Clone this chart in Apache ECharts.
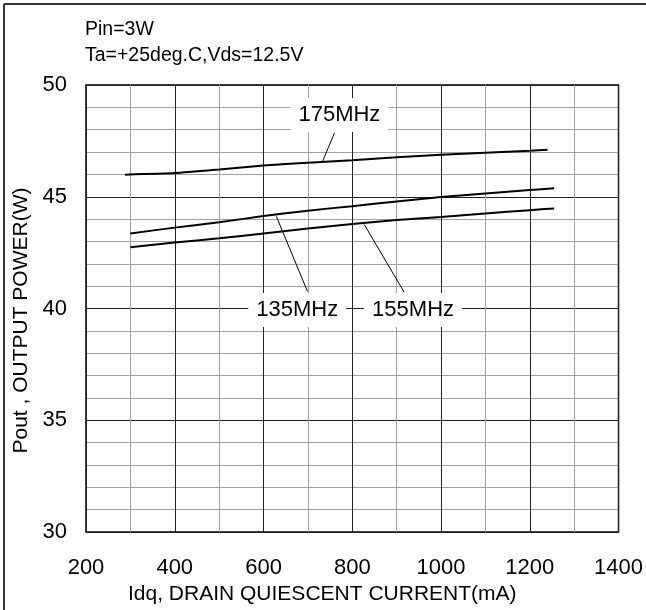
<!DOCTYPE html>
<html>
<head>
<meta charset="utf-8">
<script src="https://cdn.jsdelivr.net/npm/echarts@6/dist/echarts.min.js"></script>
<style>
  html, body { margin: 0; padding: 0; background: #fff; }
  #chart { width: 646px; height: 610px; }
</style>
</head>
<body>
<div id="chart"></div>
<script>
// Output power vs. drain quiescent current, one curve per frequency
var idq175 = [288, 400, 500, 600, 700, 800, 900, 1000, 1100, 1200, 1240];
var pout175 = [45.99, 46.06, 46.22, 46.40, 46.52, 46.63, 46.77, 46.88, 46.97, 47.06, 47.10];

var idq135 = [300, 400, 500, 600, 700, 800, 900, 1000, 1100, 1200, 1255];
var pout135 = [43.36, 43.62, 43.86, 44.14, 44.38, 44.58, 44.79, 44.99, 45.15, 45.30, 45.38];

var idq155 = [300, 400, 500, 600, 700, 800, 900, 1000, 1100, 1200, 1255];
var pout155 = [42.74, 42.95, 43.14, 43.36, 43.58, 43.78, 43.96, 44.10, 44.25, 44.40, 44.48];

// Curve annotations in data units: label centre, leader start (on curve), leader end
var curveLabels = ['175MHz', '135MHz', '155MHz'];
var labelAt = [[771, 48.66], [676, 39.93], [937, 39.93]];
var leaderFrom = [[733, 46.58], [629, 44.12], [827, 43.76]];
var leaderTo = [[760, 47.86], [699, 40.77], [917, 40.73]];

var xTicks = [200, 1400, 200];   // min, max, interval
var yTicks = [30, 50, 5];

var FONT = 'Liberation Sans, Arial, sans-serif';

function pairs(xs, ys) {
  return xs.map(function (x, i) { return [x, ys[i]]; });
}

function curve(name, xs, ys) {
  return {
    name: name,
    type: 'line',
    smooth: 0.2,
    showSymbol: false,
    symbol: 'none',
    lineStyle: { color: '#000', width: 2 },
    data: pairs(xs, ys),
    z: 3
  };
}

var chart = echarts.init(document.getElementById('chart'), null, { renderer: 'canvas' });

chart.setOption({
  animation: false,
  backgroundColor: '#fff',
  title: {
    text: 'Pin=3W\nTa=+25deg.C,Vds=12.5V',
    left: 80,
    top: 12,
    textStyle: { fontFamily: FONT, fontSize: 19.5, fontWeight: 'normal', color: '#000', lineHeight: 26 }
  },
  grid: {
    left: 86, right: 26, top: 85, bottom: 76,
    show: true, borderColor: '#000', borderWidth: 1.5, backgroundColor: 'transparent'
  },
  xAxis: {
    type: 'value',
    min: xTicks[0], max: xTicks[1], interval: xTicks[2],
    name: 'Idq, DRAIN QUIESCENT CURRENT(mA)',
    nameLocation: 'middle',
    nameGap: 46,
    nameTextStyle: { fontFamily: FONT, fontSize: 21, color: '#000', padding: [0, 60, 0, 0] },
    axisLine: { show: false },
    axisTick: { show: false },
    axisLabel: { fontFamily: FONT, fontSize: 22, color: '#000', margin: 25, formatter: function (v) { return String(v); } },
    splitLine: { show: true, lineStyle: { color: '#222', width: 1 } },
    minorTick: { show: false, splitNumber: 2 },
    minorSplitLine: { show: true, lineStyle: { color: '#a0a0a0', width: 1 } }
  },
  yAxis: {
    type: 'value',
    min: yTicks[0], max: yTicks[1], interval: yTicks[2],
    name: 'Pout , OUTPUT POWER(W)',
    nameLocation: 'middle',
    nameGap: 51,
    nameTextStyle: { fontFamily: FONT, fontSize: 21, color: '#000', padding: [0, 24, 0, 0] },
    axisLine: { show: false },
    axisTick: { show: false },
    axisLabel: { fontFamily: FONT, fontSize: 22, color: '#000', margin: 19, formatter: function (v) { return String(v); } },
    splitLine: { show: true, lineStyle: { color: '#222', width: 1 } },
    minorTick: { show: false, splitNumber: 5 },
    minorSplitLine: { show: true, lineStyle: { color: '#a0a0a0', width: 1 } }
  },
  series: [
    curve('175MHz', idq175, pout175),
    curve('135MHz', idq135, pout135),
    curve('155MHz', idq155, pout155)
  ]
});

// Annotation labels and leader lines, placed through the axis scales
var toPx = function (p) { return chart.convertToPixel({ gridIndex: 0 }, p); };
var graphics = [
  // page frame on the left and top edges
  { type: 'line', shape: { x1: 4, y1: 4, x2: 4, y2: 610 }, style: { stroke: '#333', lineWidth: 2 }, z: 10 },
  { type: 'line', shape: { x1: 4, y1: 4, x2: 646, y2: 4 }, style: { stroke: '#333', lineWidth: 2 }, z: 10 }
];
curveLabels.forEach(function (txt, i) {
  var a = toPx(leaderFrom[i]);
  var b = toPx(leaderTo[i]);
  var c = toPx(labelAt[i]);
  graphics.push({
    type: 'line',
    shape: { x1: a[0], y1: a[1], x2: b[0], y2: b[1] },
    style: { stroke: '#000', lineWidth: 1 },
    z: 20
  });
  graphics.push({
    type: 'text',
    x: c[0], y: c[1],
    style: {
      text: txt,
      fontFamily: FONT,
      fontSize: 22,
      fill: '#000',
      align: 'center',
      verticalAlign: 'middle',
      backgroundColor: '#fff',
      padding: [6, 8]
    },
    z: 21
  });
});
chart.setOption({ graphic: graphics });
</script>
</body>
</html>
